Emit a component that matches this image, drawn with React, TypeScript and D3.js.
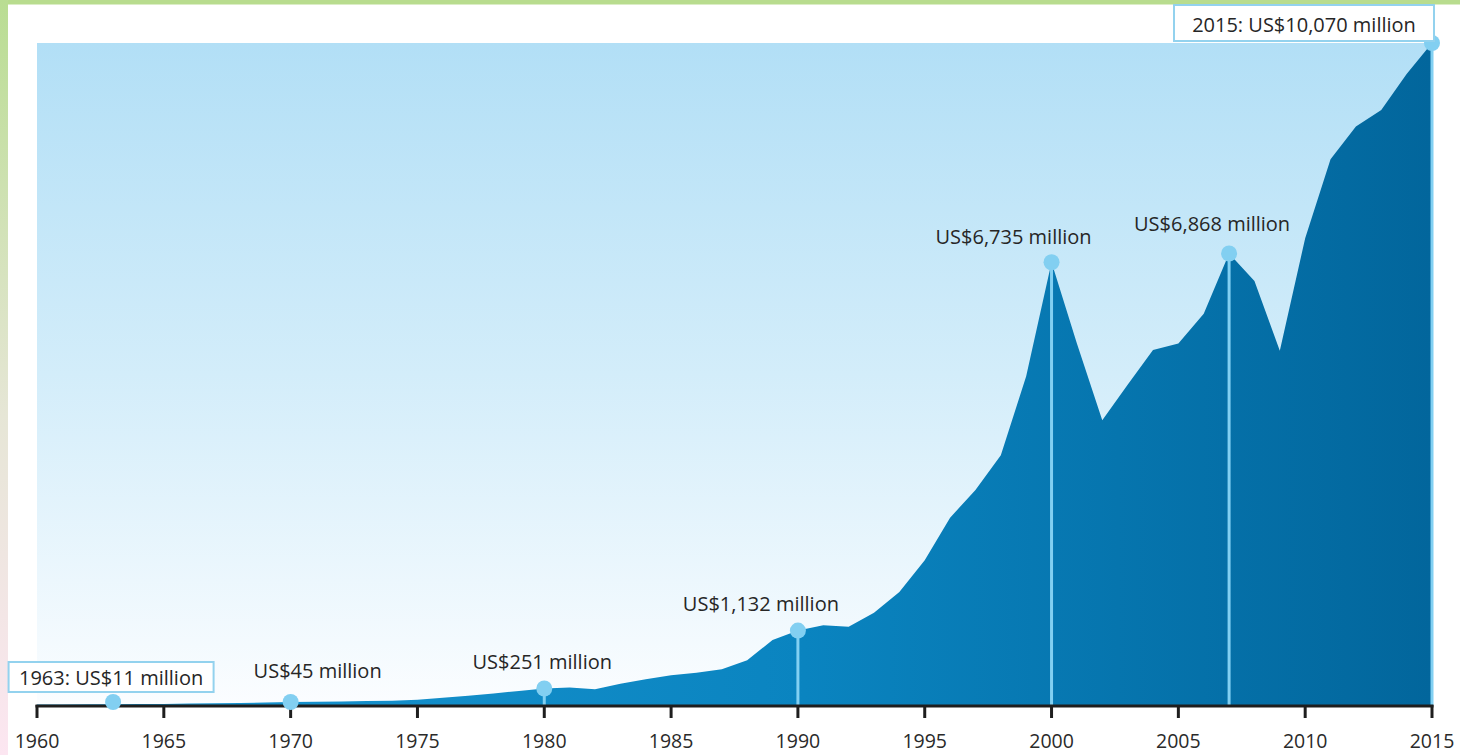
import React from "react";
import * as d3 from "d3";

const years: number[] = d3.range(1960, 2016);
const values: number[] = [
  8, 9, 10, 11, 14, 17, 21, 26, 31, 38,
  45, 50, 55, 60, 66, 78, 110, 142, 176, 214,
  251, 268, 240, 322, 392, 452, 492, 545, 680, 990,
  1132, 1215, 1190, 1405, 1720, 2200, 2850, 3270, 3800, 5000,
  6735, 5500, 4330, 4870, 5400, 5500, 5950, 6868, 6450, 5390,
  7100, 8300, 8800, 9050, 9600, 10070,
];
const tickYears: number[] = [1960, 1965, 1970, 1975, 1980, 1985, 1990, 1995, 2000, 2005, 2010, 2015];

const annYears: number[] = [1963, 1970, 1980, 1990, 2000, 2007, 2015];
const annValues: number[] = [11, 45, 251, 1132, 6735, 6868, 10070];
const annTexts: string[] = [
  "1963: US$11 million",
  "US$45 million",
  "US$251 million",
  "US$1,132 million",
  "US$6,735 million",
  "US$6,868 million",
  "2015: US$10,070 million",
];

// layout (label offsets relative to the dot, optional boxes)
const annLayout = [
  { dx: -2, dy: -17, stem: false, box: { w: 205, top: -23, h: 30 } },
  { dx: 27, dy: -24, stem: false, box: null },
  { dx: -2, dy: -19, stem: true, box: null },
  { dx: -37, dy: -20, stem: true, box: null },
  { dx: -38, dy: -18, stem: true, box: null },
  { dx: -17, dy: -22, stem: true, box: null },
  { dx: -128, dy: -11, stem: true, box: { w: 260, top: -27, h: 36 } },
];

const W = 1460;
const H = 755;
const x = d3.scaleLinear().domain([1960, 2015]).range([37, 1432]);
const y = d3.scaleLinear().domain([0, 10070]).range([705, 43]);
const FONT = "'Open Sans', 'Noto Sans', sans-serif";

export default function App() {
  const area = d3
    .area<number>()
    .x((_, i) => x(years[i]))
    .y0(y(0))
    .y1((d) => y(d))
    .curve(d3.curveLinear);
  const path = area(values) || "";

  const dotY = (v: number) => Math.min(y(v), y(0) - 3);

  return (
    <svg width={W} height={H} style={{ position: "absolute", left: 0, top: 0, display: "block", background: "#fff" }}>
      <defs>
        <linearGradient id="bg" x1="0" y1="0" x2="0" y2="1">
          <stop offset="0" stopColor="#b2dff6" />
          <stop offset="0.5" stopColor="#d3edfa" />
          <stop offset="1" stopColor="#fbfdff" />
        </linearGradient>
        <linearGradient id="fillArea" gradientUnits="userSpaceOnUse" x1={x(1960)} y1="0" x2={x(2015)} y2="0">
          <stop offset="0" stopColor="#1b97d2" />
          <stop offset="0.55" stopColor="#0a84c0" />
          <stop offset="1" stopColor="#02669c" />
        </linearGradient>
        <linearGradient id="leftBand" x1="0" y1="0" x2="0" y2="1">
          <stop offset="0" stopColor="#b9dd92" />
          <stop offset="0.55" stopColor="#e6e6d6" />
          <stop offset="1" stopColor="#fce6f1" />
        </linearGradient>
      </defs>

      <rect x={0} y={0} width={W} height={H} fill="#ffffff" />
      <rect x={0} y={0} width={W} height={4.5} fill="#b8dc8e" />
      <rect x={0} y={0} width={8} height={H} fill="url(#leftBand)" />

      {/* plot background */}
      <rect x={x(1960)} y={y(10070)} width={x(2015) - x(1960)} height={y(0) - y(10070)} fill="url(#bg)" />

      {/* area */}
      <path d={path} fill="url(#fillArea)" />

      {/* stems */}
      {annYears.map((yr, i) =>
        annLayout[i].stem ? (
          <line key={"s" + yr} x1={x(yr)} x2={x(yr)} y1={dotY(annValues[i])} y2={y(0)} stroke="#82d0f2" strokeWidth={3} />
        ) : null
      )}

      {/* axis */}
      <line x1={x(1960) - 1.5} x2={x(2015) + 1.5} y1={y(0) + 1} y2={y(0) + 1} stroke="#1e1e1e" strokeWidth={3} />
      {tickYears.map((t) => (
        <g key={t}>
          <line x1={x(t)} x2={x(t)} y1={y(0)} y2={y(0) + 13} stroke="#1e1e1e" strokeWidth={3} />
          <text x={x(t)} y={748} textAnchor="middle" fontFamily={FONT} fontSize={19.5} fill="#2a2a2a">{t}</text>
        </g>
      ))}

      {/* dots */}
      {annYears.map((yr, i) => (
        <circle key={"c" + yr} cx={x(yr)} cy={dotY(annValues[i])} r={8} fill="#82cff1" />
      ))}

      {/* labels */}
      {annYears.map((yr, i) => {
        const L = annLayout[i];
        const cx = x(yr) + L.dx;
        const cy = dotY(annValues[i]) + L.dy;
        return (
          <g key={"l" + yr}>
            {L.box && (
              <rect x={cx - L.box.w / 2} y={cy + L.box.top} width={L.box.w} height={L.box.h} fill="#ffffff" stroke="#93d2ee" strokeWidth={2} />
            )}
            <text x={cx} y={cy} textAnchor="middle" fontFamily={FONT} fontSize={20} fill="#262626">{annTexts[i]}</text>
          </g>
        );
      })}
    </svg>
  );
}
